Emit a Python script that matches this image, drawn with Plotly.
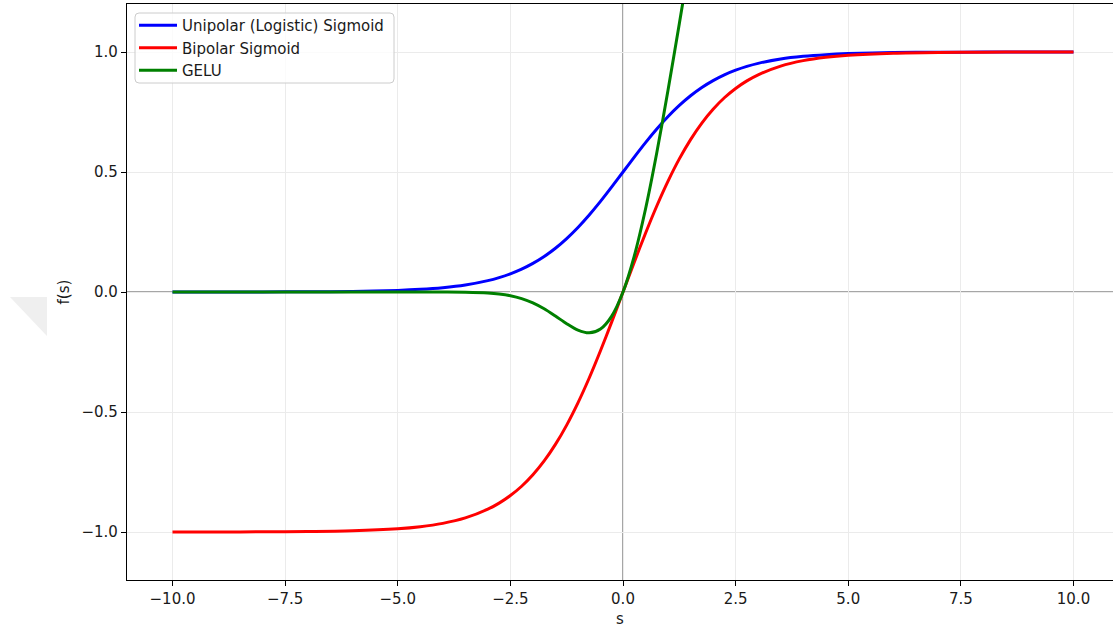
import plotly.graph_objects as go

# Sample points along s
s = [-10, -9, -8, -7, -6, -5, -4.5, -4, -3.5, -3, -2.75, -2.5, -2.25, -2, -1.75,
     -1.5, -1.25, -1, -0.75, -0.5, -0.25, 0, 0.25, 0.5, 0.75, 1, 1.25, 1.5, 1.75,
     2, 2.25, 2.5, 2.75, 3, 3.5, 4, 4.5, 5, 6, 7, 8, 9, 10]

unipolar = [0.0000, 0.0001, 0.0003, 0.0009, 0.0025, 0.0067, 0.0110, 0.0180, 0.0293,
            0.0474, 0.0601, 0.0759, 0.0953, 0.1192, 0.1480, 0.1824, 0.2227, 0.2689,
            0.3208, 0.3775, 0.4378, 0.5000, 0.5622, 0.6225, 0.6792, 0.7311, 0.7773,
            0.8176, 0.8520, 0.8808, 0.9047, 0.9241, 0.9399, 0.9526, 0.9707, 0.9820,
            0.9890, 0.9933, 0.9975, 0.9991, 0.9997, 0.9999, 1.0000]

bipolar = [-0.9999, -0.9998, -0.9993, -0.9982, -0.9951, -0.9866, -0.9780, -0.9640,
           -0.9414, -0.9051, -0.8798, -0.8482, -0.8094, -0.7616, -0.7040, -0.6351,
           -0.5546, -0.4621, -0.3584, -0.2449, -0.1244, 0.0000, 0.1244, 0.2449,
           0.3584, 0.4621, 0.5546, 0.6351, 0.7040, 0.7616, 0.8094, 0.8482, 0.8798,
           0.9051, 0.9414, 0.9640, 0.9780, 0.9866, 0.9951, 0.9982, 0.9993, 0.9998,
           0.9999]

gelu = [0.0000, 0.0000, 0.0000, 0.0000, 0.0000, 0.0000, 0.0000, -0.0001, -0.0008,
        -0.0040, -0.0082, -0.0155, -0.0275, -0.0455, -0.0701, -0.1002, -0.1320,
        -0.1587, -0.1700, -0.1543, -0.1003, 0.0000, 0.1497, 0.3457, 0.5800, 0.8413,
        1.1180, 1.3998, 1.6800, 1.9545, 2.2226, 2.4845, 2.7418, 2.9960, 3.4992,
        3.9999, 4.5000, 5.0000, 6.0000, 7.0000, 8.0000, 9.0000, 10.0000]

series = [
    ("Unipolar (Logistic) Sigmoid", unipolar, "#0000ff"),
    ("Bipolar Sigmoid", bipolar, "#ff0000"),
    ("GELU", gelu, "#008000"),
]

FONT = "DejaVu Sans, sans-serif"
TXT = "#1a1a1a"

W, H = 1113, 628
ML, MR, MT, MB = 127, 0, 4, 48
PW, PH = W - ML - MR, H - MT - MB


def px(x):
    return (x - ML) / PW


def py(y):
    return (H - MB - y) / PH


def rounded_box(x0, y0, x1, y1, r=4):
    a, b, c, d = px(x0), py(y0), px(x1), py(y1)
    rx, ry = r / PW, r / PH
    return (f"M {a+rx} {b} L {c-rx} {b} Q {c} {b} {c} {b-ry} "
            f"L {c} {d+ry} Q {c} {d} {c-rx} {d} L {a+rx} {d} "
            f"Q {a} {d} {a} {d+ry} L {a} {b-ry} Q {a} {b} {a+rx} {b} Z")


fig = go.Figure()
for name, vals, color in series:
    fig.add_trace(go.Scatter(
        x=s, y=vals, mode="lines", name=name,
        line=dict(color=color, width=3, shape="spline", smoothing=0.8),
        cliponaxis=True, hoverinfo="skip",
    ))

# Reference lines through the origin
fig.add_hline(y=0, line=dict(color="#a6a6a6", width=2), layer="below")
fig.add_vline(x=0, line=dict(color="#a6a6a6", width=2), layer="below")

# Faint decorative triangle at the left margin
fig.add_shape(type="path", xref="paper", yref="paper",
              path=f"M {px(10)} {py(297)} L {px(47)} {py(297)} L {px(47)} {py(336)} Z",
              fillcolor="#efefef", line=dict(width=0), layer="below")

# Legend frame with rounded corners
fig.add_shape(type="path", xref="paper", yref="paper",
              path=rounded_box(135, 13, 394, 83, r=4),
              fillcolor="rgba(255,255,255,0.8)", line=dict(color="#cccccc", width=1),
              layer="above")

fig.update_layout(
    width=W, height=H,
    margin=dict(l=ML, r=MR, t=MT, b=MB),
    paper_bgcolor="white", plot_bgcolor="white",
    font=dict(family=FONT, size=15, color=TXT),
    showlegend=True,
    legend=dict(
        x=px(134), y=py(9), xanchor="left", yanchor="top",
        bgcolor="rgba(0,0,0,0)", borderwidth=0,
        font=dict(family=FONT, size=15, color=TXT),
        tracegroupgap=0, itemwidth=38,
    ),
    xaxis=dict(
        range=[-11.010, 10.877], tick0=0, dtick=2.5, tickformat=".1f",
        showgrid=True, gridcolor="#ebebeb", gridwidth=1, zeroline=False,
        showline=True, linecolor="black", linewidth=1.2, mirror=True,
        ticks="outside", ticklen=5, tickcolor="black", tickwidth=1.2,
        title=dict(text="s", font=dict(family=FONT, size=15, color=TXT), standoff=6),
        tickfont=dict(family=FONT, size=15, color=TXT),
    ),
    yaxis=dict(
        range=[-1.2, 1.2], tick0=0, dtick=0.5, tickformat=".1f",
        showgrid=True, gridcolor="#ebebeb", gridwidth=1, zeroline=False,
        showline=True, linecolor="black", linewidth=1.2, mirror=False,
        ticks="outside", ticklen=5, tickcolor="black", tickwidth=1.2,
        title=dict(text="f(s)", font=dict(family=FONT, size=15, color=TXT), standoff=8),
        tickfont=dict(family=FONT, size=15, color=TXT),
    ),
)

fig.write_html("out.html")
